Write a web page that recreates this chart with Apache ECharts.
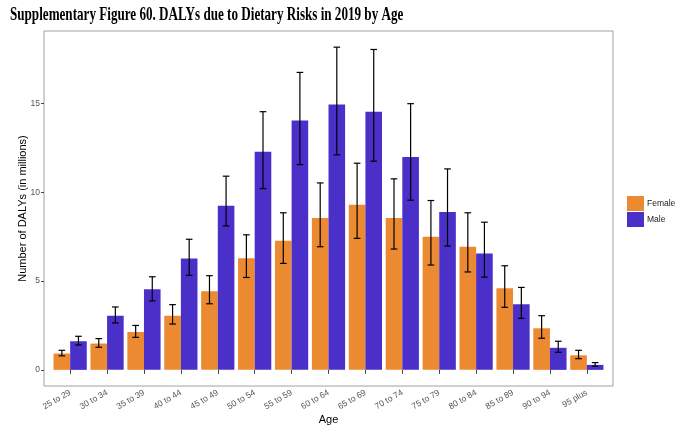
<!DOCTYPE html>
<html><head><meta charset="utf-8">
<script src="https://cdn.jsdelivr.net/npm/echarts@6/dist/echarts.min.js"></script>
<style>html,body{margin:0;padding:0;background:#fff}#c{width:690px;height:440px}</style>
</head><body><div id="c"></div>
<script>
const categories = ['25 to 29','30 to 34','35 to 39','40 to 44','45 to 49','50 to 54','55 to 59','60 to 64','65 to 69','70 to 74','75 to 79','80 to 84','85 to 89','90 to 94','95 plus'];
const femaleValues = [0.92,1.48,2.13,3.05,4.42,6.28,7.26,8.54,9.29,8.54,7.49,6.93,4.59,2.34,0.82];
const femaleLow    = [0.79,1.27,1.83,2.58,3.72,5.20,5.99,6.93,7.40,6.80,5.90,5.51,3.52,1.78,0.63];
const femaleHigh   = [1.10,1.76,2.50,3.67,5.30,7.60,8.84,10.52,11.63,10.75,9.53,8.84,5.86,3.05,1.10];
const maleValues   = [1.61,3.05,4.53,6.27,9.23,12.28,14.03,14.94,14.53,11.98,8.89,6.55,3.69,1.24,0.28];
const maleLow      = [1.40,2.64,3.88,5.32,8.10,10.20,11.55,12.10,11.74,9.55,6.97,5.22,2.90,0.99,0.21];
const maleHigh     = [1.89,3.54,5.24,7.35,10.90,14.53,16.74,18.16,18.03,14.98,11.31,8.31,4.64,1.61,0.41];
const yTicks = [0,5,10,15];

const FEMALE = '#EB8A30', MALE = '#4B2FC9';
const chart = echarts.init(document.getElementById('c'), null, {renderer:'canvas'});

function errData(lo, hi){ return categories.map((c,i)=>[i, lo[i], hi[i]]); }
function errSeries(name, lo, hi, side){
  return {
    type:'custom', name: name+' err', silent:true, z:10,
    data: errData(lo, hi),
    encode:{x:0, y:[1,2]},
    renderItem: function(params, api){
      const idx = api.value(0);
      const p1 = api.coord([idx, api.value(1)]);
      const p2 = api.coord([idx, api.value(2)]);
      const band = api.size([1,0])[0];
      const x = p1[0] + side*0.225*band;
      const hw = band*0.09;
      const st = {stroke:'#000', lineWidth:1.2};
      return {type:'group', children:[
        {type:'line', shape:{x1:x,y1:p1[1],x2:x,y2:p2[1]}, style:st},
        {type:'line', shape:{x1:x-hw,y1:p1[1],x2:x+hw,y2:p1[1]}, style:st},
        {type:'line', shape:{x1:x-hw,y1:p2[1],x2:x+hw,y2:p2[1]}, style:st}
      ]};
    }
  };
}

const panelL = 44, panelR = 613, panelT = 31, panelB = 386;
const inset = 7.7;

chart.setOption({
  animation:false,
  backgroundColor:'#fff',
  graphic:[
    {type:'text', left:10, top:6, scaleX:0.69, originX:0,
     style:{text:'Supplementary Figure 60. DALYs due to Dietary Risks in 2019 by Age', font:'bold 19px "Liberation Serif"', fill:'#000'}},
    {type:'rect', shape:{x:panelL, y:panelT, width:panelR-panelL, height:panelB-panelT}, style:{fill:'none', stroke:'#a0a0a0', lineWidth:1}, z:-1}
  ],
  legend:{
    orient:'vertical', left:627, top:196, padding:0, itemWidth:17, itemHeight:15, itemGap:1,
    icon:'rect', data:['Female','Male'],
    textStyle:{fontSize:8.5, color:'#222', fontFamily:'Liberation Sans', padding:[0,0,0,-2]}
  },
  grid:{left:panelL+inset, right:690-panelR+inset, top:panelT, bottom:440-panelB, containLabel:false},
  xAxis:{
    type:'category', data:categories,
    name:'Age', nameLocation:'middle', nameGap:28, nameMoveOverlap:false,
    nameTextStyle:{fontSize:11, color:'#000', fontFamily:'Liberation Sans'},
    axisLine:{show:false},
    axisTick:{show:true, alignWithLabel:true, length:4, lineStyle:{color:'#444'}},
    axisLabel:{rotate:30, fontSize:8.5, color:'#555', margin:6, fontFamily:'Liberation Sans'}
  },
  yAxis:{
    type:'value', min:-0.908, max:19.07, offset:inset,
    name:'Number of DALYs (in millions)', nameLocation:'middle', nameGap:16, nameMoveOverlap:false,
    nameTextStyle:{fontSize:11, color:'#000', fontFamily:'Liberation Sans'},
    axisLine:{show:false},
    splitLine:{show:false},
    axisTick:{show:true, length:3, lineStyle:{color:'#444'}, customValues:yTicks},
    axisLabel:{fontSize:8.5, color:'#555', margin:4, fontFamily:'Liberation Sans', customValues:yTicks}
  },
  series:[
    {type:'bar', name:'Female', data:femaleValues, barWidth:'45%', barGap:'0%', barCategoryGap:'10%', itemStyle:{color:FEMALE}},
    {type:'bar', name:'Male', data:maleValues, barWidth:'45%', barGap:'0%', barCategoryGap:'10%', itemStyle:{color:MALE}},
    errSeries('Female', femaleLow, femaleHigh, -1),
    errSeries('Male', maleLow, maleHigh, 1)
  ]
});
</script></body></html>
